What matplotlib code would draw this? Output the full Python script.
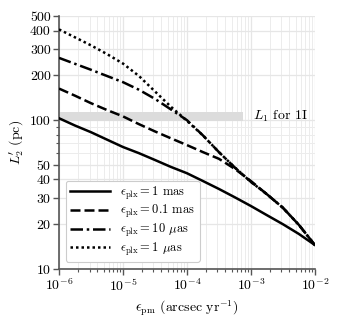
import matplotlib
matplotlib.use('Agg')
import matplotlib.pyplot as plt
import numpy as np
from matplotlib.ticker import FixedLocator, FixedFormatter, NullFormatter, LogLocator

plt.rcParams['font.family'] = 'serif'
plt.rcParams['font.serif'] = ['cmr10']
plt.rcParams['mathtext.fontset'] = 'cm'
plt.rcParams['axes.formatter.use_mathtext'] = True
plt.rcParams['font.size'] = 10

# proper-motion uncertainty (arcsec/yr), log10 values
log_pm = [-6, -5.75, -5.5, -5.25, -5, -4.75, -4.5, -4.25, -4, -3.75, -3.5,
          -3.25, -3, -2.75, -2.5, -2.25, -2]
eps_pm = [10.0 ** v for v in log_pm]

# L2' (pc) for each parallax uncertainty
l2_1mas = [103, 92, 83, 74, 66, 60, 54, 48.5, 44, 39, 34.5,
           30.3, 26.5, 23, 20, 17.2, 14.5]
l2_01mas = [163, 146, 130, 117, 106, 94, 84, 75.5, 68, 61, 55,
            47, 39, 31.8, 25.8, 19.8, 14.5]
l2_10uas = [262, 239, 218, 198, 180, 160, 139, 118, 100, 79, 61,
            48, 38.5, 31.8, 25.8, 19.8, 14.5]
l2_1uas = [407, 360, 318, 278, 240, 198, 156, 123, 99, 79, 61,
           48, 38.5, 31.8, 25.8, 19.8, 14.5]

labels = [r'$\epsilon_{\rm plx} = 1$ mas',
          r'$\epsilon_{\rm plx} = 0.1$ mas',
          r'$\epsilon_{\rm plx} = 10$ $\mu$as',
          r'$\epsilon_{\rm plx} = 1$ $\mu$as']

# L1 band for 1I
band_lo, band_hi = 98, 114
band_xmax = 7.5e-4

yticks = [10, 20, 30, 40, 50, 100, 200, 300, 400, 500]

fig = plt.figure(figsize=(3.4, 3.22), dpi=100)
ax = fig.add_axes([0.1735, 0.1646, 0.7525, 0.7854])

ax.fill_between([1e-6, band_xmax], band_lo, band_hi, color='#dcdcdc',
                lw=0, zorder=1)
ax.text(1.07e-3, 106, r'$L_1$ for 1I', va='center', ha='left')

styles = ['-', (0, (4, 1.6)), (0, (5, 1.5, 1, 1.5)), (0, (1, 1.2))]
for ys, ls, lab in zip([l2_1mas, l2_01mas, l2_10uas, l2_1uas], styles, labels):
    ax.plot(eps_pm, ys, color='black', ls=ls, lw=1.8, label=lab, zorder=3)

ax.set_xscale('log')
ax.set_yscale('log')
ax.set_xlim(1e-6, 1e-2)
ax.set_ylim(10, 500)

ax.yaxis.set_major_locator(FixedLocator(yticks))
ax.yaxis.set_major_formatter(FixedFormatter([str(v) for v in yticks]))
ax.yaxis.set_minor_locator(FixedLocator([60, 70, 80, 90]))
ax.yaxis.set_minor_formatter(NullFormatter())
ax.xaxis.set_major_locator(LogLocator(base=10, numticks=10))
ax.xaxis.set_minor_locator(LogLocator(base=10, subs=np.arange(2, 10), numticks=50))

ax.grid(True, which='major', color='#e6e6e6', lw=0.9, zorder=0)
ax.grid(True, which='minor', color='#ececec', lw=0.7, zorder=0)
ax.set_axisbelow(True)

for s in ['top', 'right']:
    ax.spines[s].set_visible(False)
for s in ['left', 'bottom']:
    ax.spines[s].set_color('#555555')
    ax.spines[s].set_linewidth(1.2)
ax.tick_params(which='both', colors='#555555', labelcolor='black')
ax.tick_params(which='major', length=4, width=1, pad=2)
ax.tick_params(which='minor', length=2.5, width=0.8)

ax.set_xlabel(r'$\epsilon_{\rm pm}$ (arcsec yr$^{-1}$)', labelpad=3)
ax.set_ylabel(r"$L_2'$ (pc)")
ax.yaxis.set_label_coords(-0.13, 0.5)

leg = ax.legend(loc='lower left', fontsize=9, handlelength=3.2,
                handletextpad=0.8, framealpha=1, edgecolor='#cccccc',
                borderpad=0.35, labelspacing=0.12, borderaxespad=0,
                bbox_to_anchor=(0.027, 0.028))
leg.get_frame().set_linewidth(0.8)

fig.savefig('out.png', dpi=100)
